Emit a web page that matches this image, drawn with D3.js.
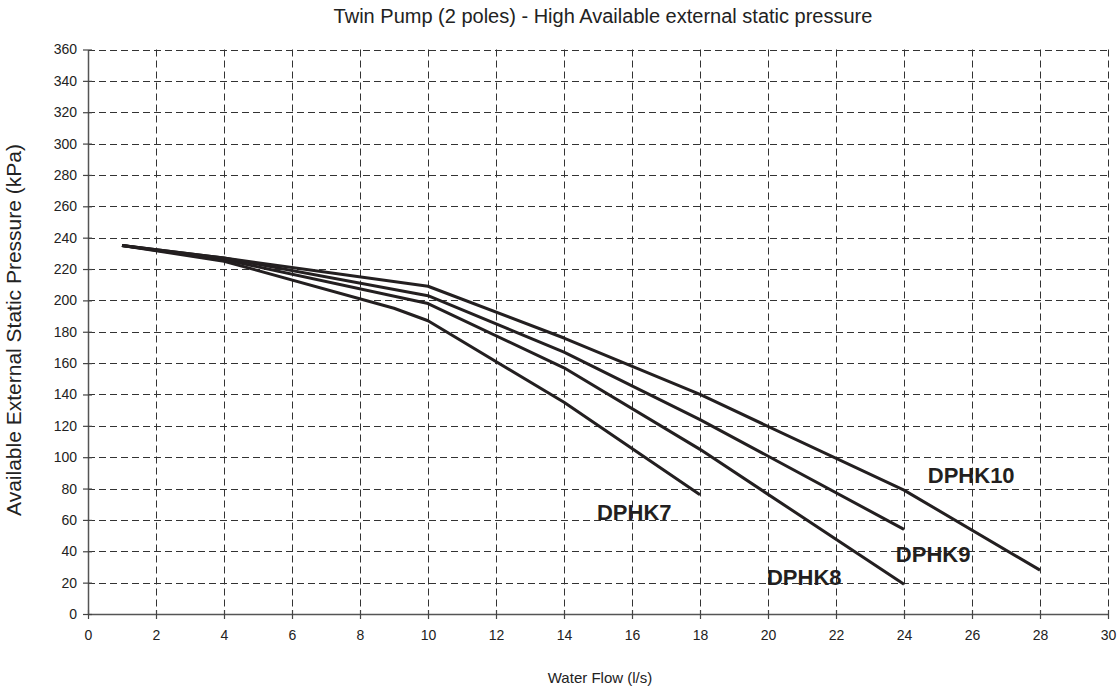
<!DOCTYPE html>
<html>
<head>
<meta charset="utf-8">
<script src="https://cdn.jsdelivr.net/npm/d3@7"></script>
<style>
  html, body { margin: 0; padding: 0; background: #fff; }
  svg { display: block; font-family: "Liberation Sans", Arial, sans-serif; }
</style>
</head>
<body>
<svg id="chart" width="1119" height="691"></svg>
<script>
// Pump curves: water flow (l/s) vs available external static pressure (kPa)
const dphk7Flow  = [1, 4, 9, 10, 14, 18];
const dphk7Press = [235, 225, 195, 187, 135, 76];
const dphk8Flow  = [1, 4, 10, 14, 18, 24];
const dphk8Press = [235, 226, 198, 157, 105, 19];
const dphk9Flow  = [1, 4, 10, 14, 18, 24];
const dphk9Press = [235, 227, 203, 167, 124, 54];
const dphk10Flow  = [1, 4, 10, 14, 18, 24, 28];
const dphk10Press = [235, 227, 209, 176, 140, 79, 28];

const modelNames = ["DPHK7", "DPHK8", "DPHK9", "DPHK10"];
// label anchor (flow, pressure) for each model name
const labelFlow  = [14.97, 19.97, 23.76, 24.7];
const labelPress = [60, 18.5, 33, 83.5];

const xTicks = d3.range(0, 31, 2);
const yTicks = d3.range(0, 361, 20);

const title = "Twin Pump (2 poles) - High Available external static pressure";
const xTitle = "Water Flow (l/s)";
const yTitle = "Available External Static Pressure (kPa)";

const series = [
  {flow: dphk7Flow, press: dphk7Press},
  {flow: dphk8Flow, press: dphk8Press},
  {flow: dphk9Flow, press: dphk9Press},
  {flow: dphk10Flow, press: dphk10Press}
];

const svg = d3.select("#chart");
const plotLeft = 88, plotRight = 1108, plotTop = 49.5, plotBottom = 614;

const x = d3.scaleLinear().domain([0, 30]).range([plotLeft, plotRight]);
const y = d3.scaleLinear().domain([0, 360]).range([plotBottom, plotTop]);

// dashed grid
const grid = svg.append("g").attr("stroke", "#333").attr("stroke-width", 1)
  .attr("stroke-dasharray", "7,4").attr("fill", "none");
grid.selectAll("line.h").data(yTicks.filter(d => d > 0)).join("line")
  .attr("x1", plotLeft).attr("x2", plotRight)
  .attr("y1", d => Math.round(y(d)) + 0.5).attr("y2", d => Math.round(y(d)) + 0.5);
grid.selectAll("line.v").data(xTicks.filter(d => d > 0)).join("line")
  .attr("y1", plotTop).attr("y2", plotBottom)
  .attr("x1", d => Math.round(x(d)) + 0.5).attr("x2", d => Math.round(x(d)) + 0.5);

// axes
const xAxis = d3.axisBottom(x).tickValues(xTicks).tickSizeInner(5).tickSizeOuter(0).tickPadding(11);
const yAxis = d3.axisLeft(y).tickValues(yTicks).tickSizeInner(5).tickSizeOuter(0).tickPadding(6);

const gx = svg.append("g").attr("transform", `translate(0,${plotBottom})`).call(xAxis);
const gy = svg.append("g").attr("transform", `translate(${plotLeft},0)`).call(yAxis);

[gx, gy].forEach(g => {
  g.select(".domain").attr("stroke", "#555").attr("stroke-width", 1.5);
  g.selectAll(".tick line").attr("stroke", "#444").attr("stroke-width", 1.2);
  g.selectAll(".tick text").attr("fill", "#222").attr("font-size", 14)
    .attr("font-family", "'Liberation Sans', Arial, sans-serif");
});
// ticks cross the axis line
gx.selectAll(".tick line").attr("y1", -4).attr("y2", 5);
gy.selectAll(".tick line").attr("x1", 4).attr("x2", -5);

// curves
const line = d3.line().x(d => x(d[0])).y(d => y(d[1]));
svg.append("g").selectAll("path").data(series).join("path")
  .attr("d", s => line(s.flow.map((f, i) => [f, s.press[i]])))
  .attr("fill", "none").attr("stroke", "#231f20").attr("stroke-width", 3)
  .attr("stroke-linejoin", "round");

// model labels
svg.append("g").selectAll("text").data(modelNames).join("text")
  .attr("x", (d, i) => x(labelFlow[i])).attr("y", (d, i) => y(labelPress[i]))
  .attr("font-size", 22).attr("font-weight", "bold").attr("fill", "#231f20")
  .text(d => d);

// titles
svg.append("text").attr("x", 603).attr("y", 23).attr("text-anchor", "middle")
  .attr("font-size", 20).attr("fill", "#222").text(title);
svg.append("text").attr("x", 600).attr("y", 683).attr("text-anchor", "middle")
  .attr("font-size", 15).attr("fill", "#222").text(xTitle);
svg.append("text").attr("transform", "translate(21,330) rotate(-90)")
  .attr("text-anchor", "middle").attr("font-size", 21).attr("fill", "#222").text(yTitle);
</script>
</body>
</html>
